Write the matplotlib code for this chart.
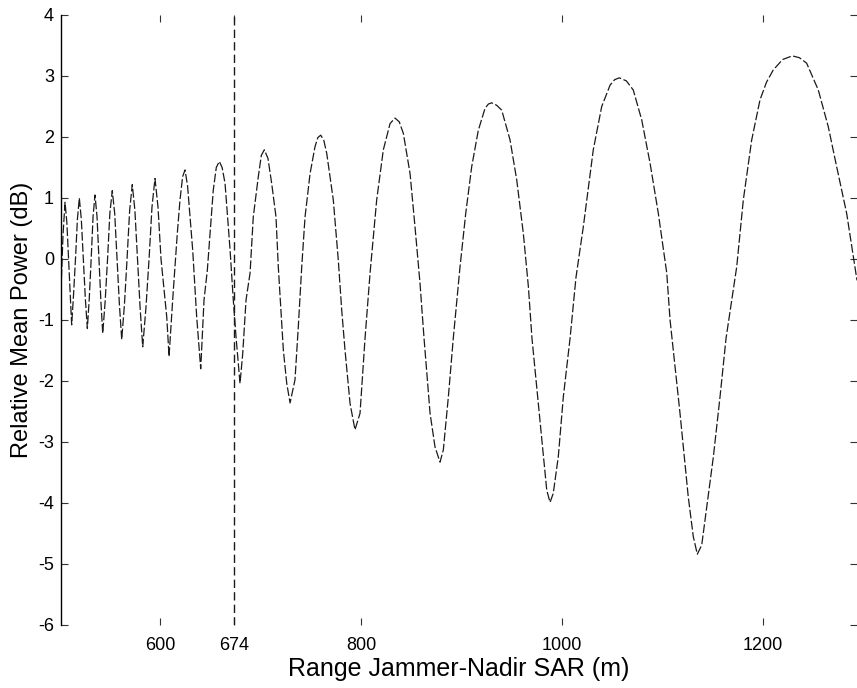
import matplotlib
matplotlib.use('Agg')
import matplotlib.pyplot as plt

# values (range in m, relative mean power in dB)
range_m = [501.5, 503.5, 505.5, 507.3, 509.0, 510.6, 512.1, 513.9, 515.9, 517.8,
           519.7, 521.7, 523.7, 525.7, 527.7, 529.6, 531.5, 533.4, 535.3, 537.3,
           539.3, 541.2, 543.0, 545.4, 547.8, 550.1, 552.5, 554.9, 557.2, 559.6,
           561.9, 564.6, 567.2, 569.8, 572.4, 575.0, 577.6, 580.2, 582.8, 586.0,
           589.1, 592.0, 595.0, 598.0, 601.0, 606.7, 609.0, 612.6, 617.2, 619.9,
           622.5, 624.9, 627.4, 629.9, 632.5, 636.5, 640.5, 643.8, 647.1, 649.8,
           653.0, 656.0, 659.0, 661.8, 664.7, 669.7, 672.9, 675.6, 679.6, 682.3,
           685.6, 689.6, 692.8, 697.8, 700.8, 703.8, 707.4, 711.1, 715.4, 717.7,
           722.7, 726.1, 729.4, 734.3, 737.6, 741.0, 744.3, 749.3, 754.2, 757.0,
           759.9, 762.9, 765.9, 772.4, 777.4, 780.8, 784.1, 789.1, 794.0, 799.0,
           804.0, 809.0, 815.6, 822.2, 828.9, 833.8, 838.0, 842.1, 848.8, 853.7,
           858.7, 862.7, 868.7, 873.6, 878.6, 881.9, 886.9, 891.8, 898.5, 904.2,
           910.1, 916.7, 923.4, 926.7, 930.0, 935.0, 940.0, 948.3, 954.9, 961.5,
           966.5, 970.1, 974.8, 981.4, 984.8, 988.1, 991.3, 996.3, 1001.3, 1008.0,
           1013.9, 1021.2, 1031.1, 1039.5, 1047.8, 1052.4, 1057.0, 1064.0, 1070.9, 1079.3,
           1087.6, 1095.8, 1104.2, 1107.5, 1117.4, 1125.6, 1130.6, 1134.6, 1139.0, 1144.0,
           1150.6, 1157.2, 1163.2, 1173.8, 1180.4, 1188.7, 1197.0, 1203.5, 1210.2, 1219.5,
           1229.1, 1236.2, 1243.4, 1255.0, 1264.9, 1273.3, 1283.2, 1289.8, 1293.5]
power_db = [-0.5, 0.4, 0.93, 0.6, 0.0, -0.6, -1.08, -0.6, 0.0, 0.65,
            1.0, 0.65, 0.0, -0.65, -1.14, -0.65, 0.0, 0.7, 1.05, 0.7,
            0.0, -0.7, -1.22, -0.7, 0.0, 0.75, 1.12, 0.75, 0.0, -0.75,
            -1.32, -0.75, 0.0, 0.8, 1.22, 0.8, 0.0, -0.8, -1.44, -0.8,
            0.0, 0.85, 1.32, 0.85, 0.0, -0.95, -1.6, -0.67, 0.42, 0.97,
            1.35, 1.46, 1.2, 0.69, 0.15, -0.95, -1.80, -0.67, -0.18, 0.42,
            1.13, 1.5, 1.6, 1.5, 1.24, 0.15, -0.67, -1.27, -2.04, -1.55,
            -0.67, -0.23, 0.69, 1.35, 1.70, 1.79, 1.65, 1.24, 0.69, -0.13,
            -1.49, -2.04, -2.36, -1.98, -1.11, -0.13, 0.69, 1.40, 1.84, 1.99,
            2.03, 1.95, 1.73, 0.97, -0.02, -0.84, -1.5, -2.37, -2.80, -2.53,
            -1.3, -0.23, 0.97, 1.79, 2.22, 2.31, 2.25, 2.06, 1.40, 0.53,
            -0.40, -1.3, -2.53, -3.08, -3.33, -3.13, -2.26, -1.3, -0.13, 0.75,
            1.51, 2.11, 2.47, 2.54, 2.56, 2.52, 2.44, 1.95, 1.30, 0.42,
            -0.45, -1.3, -2.1, -3.24, -3.79, -3.99, -3.84, -3.24, -2.26, -1.3,
            -0.3, 0.53, 1.79, 2.5, 2.85, 2.94, 2.97, 2.92, 2.77, 2.28,
            1.57, 0.75, -0.23, -1.0, -2.53, -3.90, -4.55, -4.84, -4.69, -4.06,
            -3.24, -2.26, -1.3, -0.13, 0.97, 1.95, 2.61, 2.90, 3.10, 3.27,
            3.33, 3.30, 3.21, 2.77, 2.17, 1.51, 0.75, 0.04, -0.35]

jammer_range = 674
x_ticks = [600, 674, 800, 1000, 1200]
y_ticks = [-6, -5, -4, -3, -2, -1, 0, 1, 2, 3, 4]

plt.rcParams['font.family'] = ['Liberation Sans', 'DejaVu Sans']
plt.rcParams['axes.unicode_minus'] = False

fig = plt.figure(figsize=(8.57, 6.88), dpi=100)
ax = fig.add_axes([0.0712, 0.0916, 0.9288, 0.8866])

ax.plot(range_m, power_db, color='#1a1a1a', lw=0.9, linestyle=(0, (7, 2)))
ax.plot([jammer_range, jammer_range], [-6, 4], color='#1a1a1a', lw=1.0,
        linestyle=(0, (6, 3)))

ax.set_xlim(501.5, 1293.5)
ax.set_ylim(-6, 4)
ax.set_xticks(x_ticks)
ax.set_yticks(y_ticks)
ax.tick_params(direction='in', length=5, width=0.8, labelsize=13,
               top=True, right=True, color='#333333')
ax.tick_params(axis='x', pad=9)
ax.tick_params(axis='y', pad=5)

for side in ['top', 'right', 'bottom']:
    ax.spines[side].set_visible(False)
ax.spines['left'].set_linewidth(1.0)

ax.set_xlabel('Range Jammer-Nadir SAR (m)', fontsize=18, labelpad=2)
ax.set_ylabel('Relative Mean Power (dB)', fontsize=17, labelpad=4)

fig.savefig('out.png', dpi=100)
